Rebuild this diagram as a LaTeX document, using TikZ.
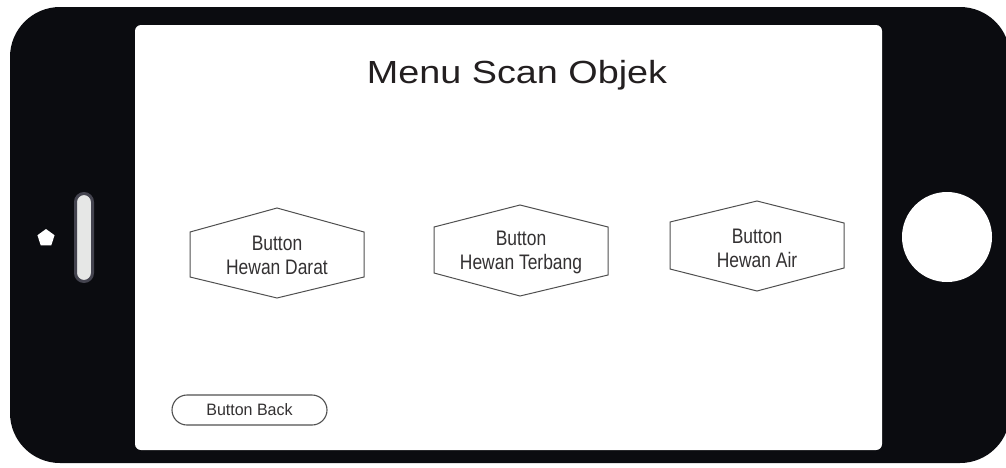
\documentclass[tikz,border=0pt]{standalone}
\usepackage{fontspec}
\setmainfont{Liberation Sans}
\newfontfamily\titlefont[FakeStretch=1.18]{Liberation Sans}
\newfontfamily\btnfont[FakeStretch=0.83]{Liberation Sans}
\newfontfamily\backfont[FakeStretch=0.97]{Liberation Sans}
\usetikzlibrary{shapes.geometric}
\definecolor{phoneblack}{HTML}{0B0C10}
\definecolor{slotedge}{HTML}{44444F}
\definecolor{slotfill}{HTML}{E6E7E6}
\definecolor{inkgray}{HTML}{333132}
\definecolor{linegray}{HTML}{505050}
\definecolor{titleink}{HTML}{231F20}
\tikzset{
  hexline/.style={draw=linegray, line width=1pt, line join=miter},
  btntext/.style={text=inkgray, align=center, inner sep=0pt,
    font=\btnfont\fontsize{21pt}{24pt}\selectfont},
  backbtn/.style={draw=linegray, line width=1.1pt, rounded corners=15pt,
    minimum width=155pt, minimum height=30pt, inner sep=0pt, text=inkgray,
    font=\backfont\fontsize{16.5pt}{19pt}\selectfont},
  titletext/.style={text=titleink, inner sep=0pt,
    font=\titlefont\fontsize{32pt}{36pt}\selectfont}
}
\begin{document}
\begin{tikzpicture}[x=1pt,y=-1pt]
\useasboundingbox (0,0) rectangle (1006,467);
% phone body
\fill[phoneblack, rounded corners=50pt] (10,7) rectangle (1010,463);
% screen
\fill[white, rounded corners=6pt] (135,25) rectangle (882,450);
% camera and speaker slot
\node[regular polygon, regular polygon sides=5, fill=white, minimum size=18pt, inner sep=0pt] (cam) at (46,238) {};
\draw[draw=slotedge, fill=slotfill, line width=3pt, rounded corners=8.5pt] (75.5,193.5) rectangle (92.5,281.5);
% home button
\node[circle, fill=white, minimum size=90pt, inner sep=0pt] (home) at (947,237) {};
% title
\node[titletext, anchor=base] (title) at (517,83) {Menu Scan Objek};
% hexagon buttons
\coordinate (c1) at (277,253);
\coordinate (c2) at (521,250);
\coordinate (c3) at (757,246);
\draw[hexline] (190,232) -- (277,208) -- (364,232) -- (364,277) -- (277,298) -- (190,277) -- cycle;
\draw[hexline] (434,227) -- (520,205) -- (608,227) -- (608,275) -- (520,296) -- (434,273) -- cycle;
\draw[hexline] (670,222) -- (757,201) -- (844,223) -- (844,268) -- (757,291) -- (670,269) -- cycle;
\node[btntext] (b1) at ([yshift=-2.5pt]c1) {Button\\Hewan Darat};
\node[btntext] (b2) at ([yshift=-2.5pt]c2) {Button\\Hewan Terbang};
\node[btntext] (b3) at ([yshift=-2.5pt]c3) {Button\\Hewan Air};
% back button
\node[backbtn] (back) at (249.5,410) {Button Back};
\end{tikzpicture}
\end{document}
